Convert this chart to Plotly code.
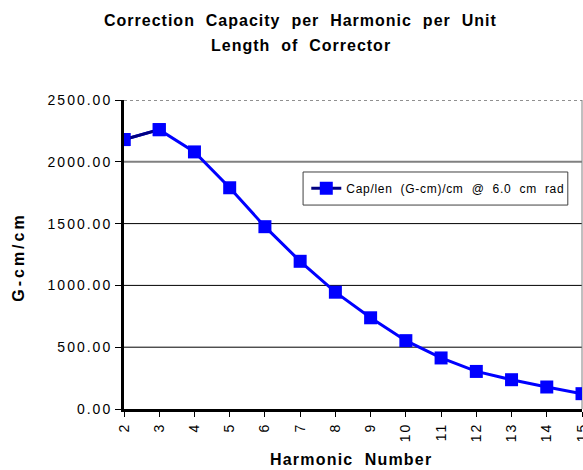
import plotly.graph_objects as go

harmonics = [2, 3, 4, 5, 6, 7, 8, 9, 10, 11, 12, 13, 14, 15]
cap_per_len = [2180, 2260, 2080, 1790, 1475, 1195, 945, 738, 553, 413, 304, 237, 178, 124]
y_ticks = [0, 500, 1000, 1500, 2000, 2500]
y_tick_labels = ["0.00", "500.00", "1000.00", "1500.00", "2000.00", "2500.00"]
title_lines = ["Correction Capacity per Harmonic per Unit", "Length of Corrector"]
x_title = "Harmonic Number"
y_title = "G-cm/cm"
series_name = "Cap/len (G-cm)/cm @ 6.0 cm rad"

NB = "\u00a0"
FONT = "Liberation Sans, Arial, sans-serif"


def ls(s, px, gap=2):
    s = s.replace(" ", NB * gap)
    return "<span style='letter-spacing:%spx'>%s</span>" % (px, s)


fig = go.Figure()
fig.add_trace(go.Scatter(
    x=harmonics, y=cap_per_len, mode="lines+markers",
    line=dict(color="#0000FF", width=3),
    marker=dict(symbol="square", size=13, color="#0000FF"),
    showlegend=False,
))
fig.add_trace(go.Scatter(
    x=harmonics[:2], y=cap_per_len[:2], mode="lines+markers",
    line=dict(color="#000080", width=3),
    marker=dict(symbol="square", size=13, color="#0000FF"),
    name=ls(series_name, 0.7),
    showlegend=True,
))

shapes = []
for v in y_ticks[1:4]:
    shapes.append(dict(type="line", xref="paper", x0=0, x1=1, yref="y", y0=v, y1=v,
                       line=dict(color="black", width=1), layer="below"))
shapes.append(dict(type="line", xref="paper", x0=0, x1=1, yref="y", y0=y_ticks[4], y1=y_ticks[4],
                   line=dict(color="#808080", width=2), layer="below"))
shapes.append(dict(type="line", xref="paper", x0=0, x1=1, yref="y", y0=y_ticks[5], y1=y_ticks[5],
                   line=dict(color="#909090", width=2, dash="dot"), layer="below"))
shapes.append(dict(type="line", xref="paper", x0=1, x1=1, yref="paper", y0=0, y1=1,
                   line=dict(color="#808080", width=1), layer="below"))
# legend frame
shapes.append(dict(type="rect", xref="paper", yref="paper", x0=0.391, x1=0.969, y0=0.660, y1=0.767,
                   line=dict(color="#404040", width=1), fillcolor="white", layer="above"))

annotations = [
    dict(text="<b>" + ls(title_lines[0], 1.0) + "</b>", xref="paper", yref="paper",
         x=0.386, y=1.257, xanchor="center", yanchor="middle", showarrow=False,
         font=dict(size=16, family=FONT)),
    dict(text="<b>" + ls(title_lines[1], 1.0) + "</b>", xref="paper", yref="paper",
         x=0.386, y=1.175, xanchor="center", yanchor="middle", showarrow=False,
         font=dict(size=16, family=FONT)),
    dict(text="<b>" + ls(x_title, 1.2) + "</b>", xref="paper", yref="paper",
         x=0.496, y=-0.165, xanchor="center", yanchor="middle", showarrow=False,
         font=dict(size=16, family=FONT)),
    dict(text="<b>" + ls(y_title, 3) + "</b>", xref="paper", yref="paper",
         x=-0.231, y=0.49, xanchor="center", yanchor="middle", showarrow=False,
         textangle=-90, font=dict(size=16, family=FONT)),
]

fig.update_layout(
    width=583, height=470,
    margin=dict(l=124, r=1, t=100, b=61),
    paper_bgcolor="white", plot_bgcolor="white",
    font=dict(family=FONT, color="black", size=12),
    xaxis=dict(
        range=[2, 15], tickvals=harmonics, ticktext=[ls(str(h), 2) for h in harmonics],
        tickangle=-90, ticks="outside", ticklen=5, tickcolor="black",
        showline=True, linecolor="black", linewidth=3, showgrid=False, zeroline=False,
        tickfont=dict(size=14), automargin=False, ticklabeloverflow="allow",
    ),
    yaxis=dict(
        range=[0, 2500], tickvals=y_ticks, ticktext=[ls(t, 2) for t in y_tick_labels],
        ticks="outside", ticklen=6, tickcolor="black",
        showline=True, linecolor="black", linewidth=3, showgrid=False, zeroline=False,
        tickfont=dict(size=14), automargin=False,
    ),
    legend=dict(
        x=0.398, y=0.714, xanchor="left", yanchor="middle",
        borderwidth=0, bgcolor="rgba(0,0,0,0)",
        font=dict(size=12), itemwidth=30,
    ),
    shapes=shapes,
    annotations=annotations,
)

fig.write_html(
    "out.html",
    config={"displayModeBar": False},
    post_script="document.body.style.margin='0px';document.body.style.overflow='hidden';",
)
